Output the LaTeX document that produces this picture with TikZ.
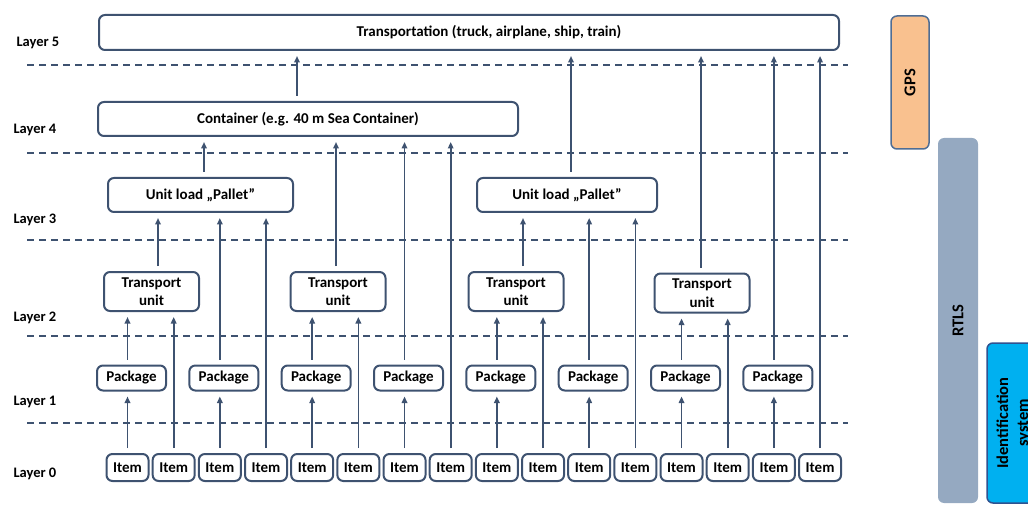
\documentclass[tikz,border=0pt]{standalone}
\usepackage{fontspec}
\setmainfont{Carlito}
\usetikzlibrary{arrows.meta}
\definecolor{linecol}{HTML}{3E5270}
\definecolor{gpsfill}{HTML}{F9C18F}
\definecolor{gpsdraw}{HTML}{4F6D94}
\definecolor{rtlsfill}{HTML}{95A9C1}
\definecolor{idfill}{HTML}{00B0F0}
\definecolor{iddraw}{HTML}{2F5290}

\begin{document}
\begin{tikzpicture}[x=1pt, y=-1pt,
        % Define the styles for the boxes, arrows and layer lines
        box/.style={draw=linecol, line width=2pt, rounded corners=6pt, fill=white, inner sep=1pt,
            align=center, font=\bfseries\fontsize{15}{18.5}\selectfont},
        itembox/.style={box, minimum width=42pt, minimum height=27pt},
        pkgbox/.style={box, minimum width=69pt, minimum height=25pt},
        tubox/.style={box, minimum width=95pt, minimum height=39pt},
        bar/.style={rotate=90, rounded corners=6pt, align=center,
            font=\bfseries\fontsize{16.5}{20}\selectfont},
        link/.style={draw=linecol, line width=1.7pt, -{Triangle[length=6.5pt,width=5.5pt]},
            shorten <=5pt, shorten >=5pt},
        layerline/.style={draw=linecol, line width=1.6pt, dash pattern=on 7pt off 5pt},
        layerlabel/.style={anchor=west, font=\bfseries\fontsize{14.5}{17}\selectfont}]

        \clip (0,0) rectangle (1028,505);

        % 1. Layer lines and layer names
        \foreach \y in {65,153,240,336,423}
            \draw[layerline] (27,\y) -- (848,\y);
        \node[layerlabel] (l5) at (13,43) {Layer 5};
        \node[layerlabel] (l4) at (10,130) {Layer 4};
        \node[layerlabel] (l3) at (10,220) {Layer 3};
        \node[layerlabel] (l2) at (10,318) {Layer 2};
        \node[layerlabel] (l1) at (10,402) {Layer 1};
        \node[layerlabel] (l0) at (10,474) {Layer 0};

        % 2. Layer 0: items
        \foreach \i in {1,...,16}
            \node[itembox] (i\i) at ({127.5+46.17*(\i-1)}, 467.5) {Item};

        % 3. Layer 1: packages (slightly right of every odd item)
        \foreach \i [evaluate=\i as \k using int((\i+1)/2)] in {1,3,...,15}
            \node[pkgbox] (p\k) at ([xshift=4pt]i\i |- 0,378) {Package};

        % 4. Layer 2 to 5: transport units, pallets, container, transportation
        \node[tubox] (tu1) at (151.5,291.5) {Transport\\unit};
        \node[tubox] (tu2) at (338,291.5) {Transport\\unit};
        \node[tubox] (tu3) at (516,291.5) {Transport\\unit};
        \node[tubox] (tu4) at (702,293) {Transport\\unit};
        \node[box, minimum width=185pt, minimum height=34pt] (pal1) at (200.5,195) {Unit load „Pallet”};
        \node[box, minimum width=180pt, minimum height=34pt] (pal2) at (567,195) {Unit load „Pallet”};
        \node[box, minimum width=420pt, minimum height=34pt] (cont) at (308,119) {Container (e.g. 40 m Sea Container)};
        \node[box, minimum width=740pt, minimum height=35pt] (transp) at (469,32.5)
            {\hspace*{40pt}Transportation (truck, airplane, ship, train)};

        % 5. Items to packages
        \foreach \i [evaluate=\i as \k using int((\i+1)/2)] in {1,3,...,15}
            \draw[link] (i\i.north) -- (i\i.north |- p\k.south);

        % 6. Packages to the next unit (at the x of their item)
        \draw[link] (p1.north -| i1) -- (tu1.south -| i1);
        \draw[link] (p2.north -| i3) -- (pal1.south -| i3);
        \draw[link] (p3.north -| i5) -- (tu2.south -| i5);
        \draw[link] (p4.north -| i7) -- (cont.south -| i7);
        \draw[link] (p5.north -| i9) -- (tu3.south -| i9);
        \draw[link] (p6.north -| i11) -- (pal2.south -| i11);
        \draw[link] (p7.north -| i13) -- (tu4.south -| i13);
        \draw[link] (p8.north -| i15) -- (transp.south -| i15);

        % 7. Single items straight to a higher layer
        \draw[link] (i2.north) -- (tu1.south -| i2);
        \draw[link] (i4.north) -- (pal1.south -| i4);
        \draw[link] (i6.north) -- (tu2.south -| i6);
        \draw[link] (i8.north) -- (cont.south -| i8);
        \draw[link] (i10.north) -- (tu3.south -| i10);
        \draw[link] (i12.north) -- (pal2.south -| i12);
        \draw[link] (i14.north) -- (tu4.south -| i14);
        \draw[link] (i16.north) -- (transp.south -| i16);

        % 8. Transport units, pallets and container upwards
        \draw[link] ([xshift=6.5pt]tu1.north) -- ([xshift=6.5pt]tu1.north |- pal1.south);
        \draw[link] ([xshift=-2pt]tu2.north) -- ([xshift=-2pt]tu2.north |- cont.south);
        \draw[link] ([xshift=7pt]tu3.north) -- ([xshift=7pt]tu3.north |- pal2.south);
        \draw[link] ([xshift=-1pt]tu4.north) -- ([xshift=-1pt]tu4.north |- transp.south);
        \draw[link] ([xshift=3.5pt]pal1.north) -- ([xshift=3.5pt]pal1.north |- cont.south);
        \draw[link] ([xshift=4pt]pal2.north) -- ([xshift=4pt]pal2.north |- transp.south);
        \draw[link] ([xshift=-11pt]cont.north) -- ([xshift=-11pt]cont.north |- transp.south);

        % 9. Technologies on the right
        \node[bar, fill=gpsfill, draw=gpsdraw, line width=1.5pt, minimum width=133pt, minimum height=38pt]
            (gps) at (910,82.5) {GPS};
        \node[bar, fill=rtlsfill, minimum width=365pt, minimum height=40pt]
            (rtls) at (958,320.5) {RTLS};
        \node[bar, fill=idfill, draw=iddraw, line width=1.5pt, minimum width=160pt, minimum height=53pt]
            (ids) at (1013.5,423) {Identification\\system};

    \end{tikzpicture}
\end{document}
